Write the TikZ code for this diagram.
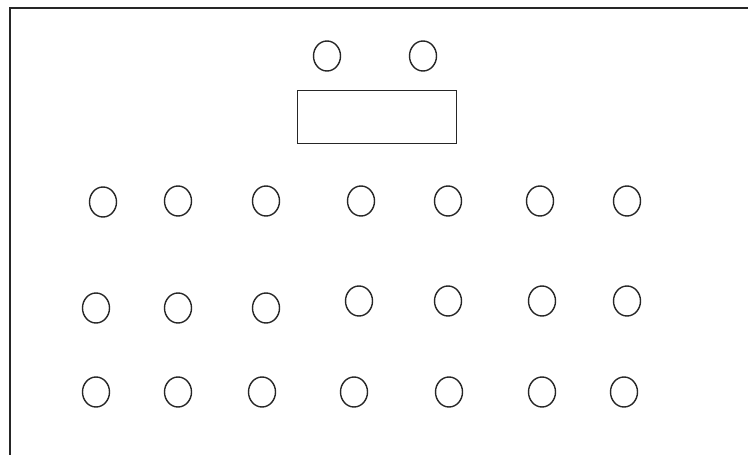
\documentclass[tikz,border=0pt]{standalone}
\usetikzlibrary{shapes.geometric}
\begin{document}
\begin{tikzpicture}[x=1pt,y=-1pt,
  seat/.style={draw=black!85,ellipse,line width=1.4pt,minimum width=27pt,minimum height=30pt,inner sep=0pt},
  desk/.style={draw=black!85,rectangle,line width=1.4pt,minimum width=159pt,minimum height=53pt,inner sep=0pt},
  wall/.style={draw=black!85,line width=1.6pt}]
\useasboundingbox[fill=white] (0,0) rectangle (748,455);
\coordinate (wbl) at (10,455);
\coordinate (wtl) at (10,8);
\coordinate (wtr) at (748,8);
\draw[wall] (wbl) -- (wtl) -- (wtr);
% teacher seats and desk
\node[seat] (t1) at (327,56) {};
\node[seat] (t2) at (423,56) {};
\node[desk] (desk) at (377,117) {};
% row 1
\node[seat] (a1) at (103,202) {};
\node[seat] (a2) at (178,201) {};
\node[seat] (a3) at (266,201) {};
\node[seat] (a4) at (361,201) {};
\node[seat] (a5) at (448,201) {};
\node[seat] (a6) at (540,201) {};
\node[seat] (a7) at (627,201) {};
% row 2
\node[seat] (b1) at (96,308) {};
\node[seat] (b2) at (178,308) {};
\node[seat] (b3) at (266,308) {};
\node[seat] (b4) at (359,301) {};
\node[seat] (b5) at (448,301) {};
\node[seat] (b6) at (542,301) {};
\node[seat] (b7) at (627,301) {};
% row 3
\node[seat] (c1) at (96,392) {};
\node[seat] (c2) at (178,392) {};
\node[seat] (c3) at (262,392) {};
\node[seat] (c4) at (354,392) {};
\node[seat] (c5) at (449,392) {};
\node[seat] (c6) at (542,392) {};
\node[seat] (c7) at (624,392) {};
\end{tikzpicture}
\end{document}
